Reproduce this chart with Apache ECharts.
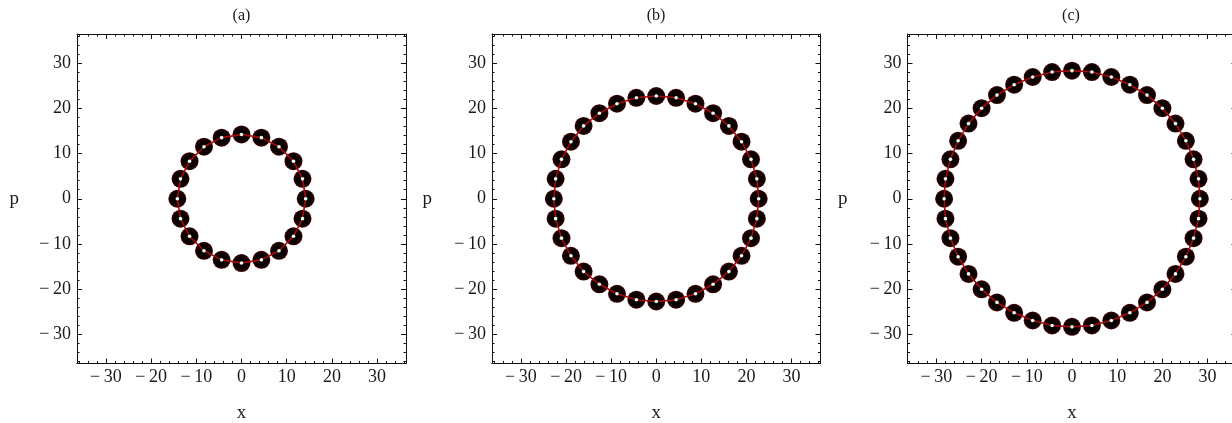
<!DOCTYPE html>
<html>
<head>
<meta charset="utf-8">
<script src="https://cdn.jsdelivr.net/npm/echarts@6/dist/echarts.min.js"></script>
<style>
html,body{margin:0;padding:0;background:#fff;}
#chart{width:1232px;height:423px;}
</style>
</head>
<body>
<div id="chart"></div>
<script>
// ---- data ----
const panelTitles = ['(a)', '(b)', '(c)'];
const majorTicks = [-30, -20, -10, 0, 10, 20, 30];
const minorTicks = [-36, -34, -32, -28, -26, -24, -22, -18, -16, -14, -12, -8, -6, -4, -2,
                    2, 4, 6, 8, 12, 14, 16, 18, 22, 24, 26, 28, 32, 34, 36];

// panel (a): 20 points
const xA = [14.2, 13.5, 11.5, 8.3, 4.4, 0, -4.4, -8.3, -11.5, -13.5, -14.2, -13.5, -11.5, -8.3, -4.4, 0, 4.4, 8.3, 11.5, 13.5];
const pA = [0, 4.4, 8.3, 11.5, 13.5, 14.2, 13.5, 11.5, 8.3, 4.4, 0, -4.4, -8.3, -11.5, -13.5, -14.2, -13.5, -11.5, -8.3, -4.4];

// panel (b): 32 points
const xB = [22.7, 22.3, 21.0, 18.9, 16.1, 12.6, 8.7, 4.4, 0,
            -4.4, -8.7, -12.6, -16.1, -18.9, -21.0, -22.3, -22.7,
            -22.3, -21.0, -18.9, -16.1, -12.6, -8.7, -4.4, 0,
            4.4, 8.7, 12.6, 16.1, 18.9, 21.0, 22.3];
const pB = [0, 4.4, 8.7, 12.6, 16.1, 18.9, 21.0, 22.3, 22.7,
            22.3, 21.0, 18.9, 16.1, 12.6, 8.7, 4.4, 0,
            -4.4, -8.7, -12.6, -16.1, -18.9, -21.0, -22.3, -22.7,
            -22.3, -21.0, -18.9, -16.1, -12.6, -8.7, -4.4];

// panel (c): 40 points
const xC = [28.3, 28.0, 26.9, 25.2, 22.9, 20.0, 16.6, 12.8, 8.7, 4.4, 0,
            -4.4, -8.7, -12.8, -16.6, -20.0, -22.9, -25.2, -26.9, -28.0, -28.3,
            -28.0, -26.9, -25.2, -22.9, -20.0, -16.6, -12.8, -8.7, -4.4, 0,
            4.4, 8.7, 12.8, 16.6, 20.0, 22.9, 25.2, 26.9, 28.0];
const pC = [0, 4.4, 8.7, 12.8, 16.6, 20.0, 22.9, 25.2, 26.9, 28.0, 28.3,
            28.0, 26.9, 25.2, 22.9, 20.0, 16.6, 12.8, 8.7, 4.4, 0,
            -4.4, -8.7, -12.8, -16.6, -20.0, -22.9, -25.2, -26.9, -28.0, -28.3,
            -28.0, -26.9, -25.2, -22.9, -20.0, -16.6, -12.8, -8.7, -4.4];

const axisMin = -36.4, axisMax = 36.4;

// ---- layout / style ----
const FONT = 'Liberation Serif';
const grids = [
  {left: 77, top: 34, width: 329, height: 329.5, titleX: 241.5, pGap: 58},
  {left: 492, top: 34, width: 328.5, height: 329.5, titleX: 656, pGap: 60},
  {left: 907.5, top: 34, width: 329, height: 329.5, titleX: 1071, pGap: 60}
];
const panels = [[xA, pA], [xB, pB], [xC, pC]];

function fmt(v) { return v < 0 ? '\u2212\u2009' + Math.abs(v) : String(v); }

const option = {
  backgroundColor: '#fff',
  animation: false,
  grid: [], xAxis: [], yAxis: [], series: [], graphic: []
};

grids.forEach((g, i) => {
  option.grid.push({left: g.left, top: g.top, width: g.width, height: g.height,
                    containLabel: false, outerBoundsMode: 'none'});
  const lineStyle = {color: '#111', width: 1};
  const base = {type: 'value', gridIndex: i, min: axisMin, max: axisMax, splitLine: {show: false}};
  const labelStyle = {fontFamily: FONT, fontSize: 18, color: '#1a1a1a'};
  // x axes: bottom major (labels), bottom minor, top major, top minor
  option.xAxis.push(Object.assign({}, base, {
    position: 'bottom', name: 'x', nameLocation: 'middle', nameGap: 40,
    nameTextStyle: {fontFamily: FONT, fontSize: 19, color: '#1a1a1a'},
    axisLine: {show: true, onZero: false, lineStyle},
    axisTick: {show: true, inside: true, length: 5, customValues: majorTicks, lineStyle},
    axisLabel: Object.assign({show: true, customValues: majorTicks, formatter: fmt, margin: 5}, labelStyle)
  }));
  option.xAxis.push(Object.assign({}, base, {
    position: 'bottom', axisLine: {show: false, onZero: false},
    axisTick: {show: true, inside: true, length: 2.5, customValues: minorTicks, lineStyle},
    axisLabel: {show: false}
  }));
  option.xAxis.push(Object.assign({}, base, {
    position: 'top', axisLine: {show: true, onZero: false, lineStyle},
    axisTick: {show: true, inside: true, length: 5, customValues: majorTicks, lineStyle},
    axisLabel: {show: false}
  }));
  option.xAxis.push(Object.assign({}, base, {
    position: 'top', axisLine: {show: false, onZero: false},
    axisTick: {show: true, inside: true, length: 2.5, customValues: minorTicks, lineStyle},
    axisLabel: {show: false}
  }));
  // y axes
  option.yAxis.push(Object.assign({}, base, {
    position: 'left', name: 'p', nameLocation: 'middle', nameGap: g.pGap, nameRotate: 0,
    nameTextStyle: {fontFamily: FONT, fontSize: 19, color: '#1a1a1a'},
    axisLine: {show: true, onZero: false, lineStyle},
    axisTick: {show: true, inside: true, length: 5, customValues: majorTicks, lineStyle},
    axisLabel: Object.assign({show: true, customValues: majorTicks, formatter: fmt, margin: 6}, labelStyle)
  }));
  option.yAxis.push(Object.assign({}, base, {
    position: 'left', axisLine: {show: false, onZero: false},
    axisTick: {show: true, inside: true, length: 2.5, customValues: minorTicks, lineStyle},
    axisLabel: {show: false}
  }));
  option.yAxis.push(Object.assign({}, base, {
    position: 'right', axisLine: {show: true, onZero: false, lineStyle},
    axisTick: {show: true, inside: true, length: 5, customValues: majorTicks, lineStyle},
    axisLabel: {show: false}
  }));
  option.yAxis.push(Object.assign({}, base, {
    position: 'right', axisLine: {show: false, onZero: false},
    axisTick: {show: true, inside: true, length: 2.5, customValues: minorTicks, lineStyle},
    axisLabel: {show: false}
  }));

  const xs = panels[i][0], ps = panels[i][1];
  const pts = xs.map((x, k) => [x, ps[k]]);
  const closed = pts.concat([pts[0]]);
  const xi = i * 4, yi = i * 4;

  option.series.push({
    type: 'scatter', xAxisIndex: xi, yAxisIndex: yi, data: pts, symbol: 'circle', symbolSize: 18, z: 2,
    itemStyle: {
      opacity: 1,
      color: {type: 'radial', x: 0.5, y: 0.5, r: 0.5, colorStops: [
        {offset: 0, color: '#000000'}, {offset: 0.65, color: '#0a0101'}, {offset: 0.88, color: '#1e0202'}, {offset: 1, color: '#480505'}
      ]}
    },
    silent: true
  });
  option.series.push({
    type: 'line', xAxisIndex: xi, yAxisIndex: yi, data: closed, showSymbol: false, symbol: 'none', z: 3,
    lineStyle: {color: '#a80a0a', width: 1.6}, silent: true
  });
  option.series.push({
    type: 'scatter', xAxisIndex: xi, yAxisIndex: yi, data: pts, symbol: 'circle', symbolSize: 3.6, z: 4,
    itemStyle: {color: '#e6fff6', opacity: 1}, silent: true
  });

  option.graphic.push({
    type: 'text', x: g.titleX, y: 16,
    style: {text: panelTitles[i], font: '16px "' + FONT + '"', fill: '#1a1a1a', textAlign: 'center', textVerticalAlign: 'middle'}
  });
});

const chart = echarts.init(document.getElementById('chart'), null, {renderer: 'canvas'});
chart.setOption(option);
</script>
</body>
</html>
